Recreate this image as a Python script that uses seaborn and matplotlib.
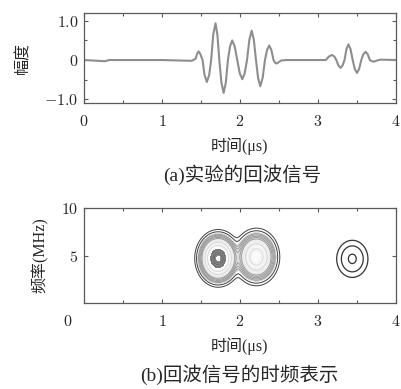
import numpy as np
import matplotlib
matplotlib.use("Agg")
import matplotlib.pyplot as plt
import matplotlib.transforms as mtransforms
import seaborn as sns

# ---- data ----
time_us = [0.0, 0.27, 0.32, 1.0, 1.38, 1.43, 1.45, 1.47, 1.49, 1.52, 1.545, 1.575,
           1.605, 1.63, 1.657, 1.686, 1.71, 1.735, 1.762, 1.79, 1.818, 1.845,
           1.872, 1.90, 1.932, 1.965, 1.997, 2.03, 2.06, 2.09, 2.12, 2.15, 2.177,
           2.205, 2.232, 2.26, 2.29, 2.32, 2.347, 2.375, 2.402, 2.43, 2.45, 2.47,
           2.50, 2.53, 2.6, 3.0, 3.1, 3.14, 3.18, 3.21, 3.235, 3.262, 3.29, 3.315,
           3.34, 3.365, 3.39, 3.417, 3.445, 3.472, 3.50, 3.527, 3.555, 3.582,
           3.61, 3.637, 3.665, 3.69, 3.72, 3.76, 3.8, 4.0]
amplitude = [0.0, -0.03, 0.0, 0.0, -0.02, 0.03, 0.16, 0.22, 0.16, 0.0, -0.38, -0.56,
             -0.38, 0.0, 0.65, 0.94, 0.65, 0.0, -0.58, -0.84, -0.58, 0.0,
             0.35, 0.50, 0.35, 0.0, -0.34, -0.49, -0.34, 0.0, 0.52, 0.75, 0.52,
             0.0, -0.46, -0.67, -0.46, 0.0, 0.26, 0.37, 0.26, 0.0, -0.07, -0.09,
             -0.05, -0.01, 0.0, 0.0, 0.0, 0.09, 0.13, 0.09, 0.0, -0.14, -0.20, -0.14,
             0.0, 0.28, 0.40, 0.28, 0.0, -0.23, -0.33, -0.23, 0.0, 0.15,
             0.21, 0.15, 0.0, -0.03, -0.04, -0.01, 0.01, 0.0]

# time-frequency energy blobs (centre time, centre freq, widths, amplitude)
echo1_t = [1.72, 2.21]
echo1_f = [4.7, 4.85]
echo1_st = [0.094, 0.101]
echo1_sf = [0.95, 1.02]
echo1_amp = [1.0, 0.5]
echo2_t = [3.44]
echo2_f = [4.65]
echo2_st = [0.10]
echo2_sf = [0.975]
echo2_amp = [1.0]
echo2_levels = [0.135, 0.375, 0.88]

xticks = [0, 1, 2, 3, 4]
xtick_labels = ['0', '1', '2', '3', '4']
yticks_a = [-1.0, 0, 1.0]
ytick_labels_a = ['-1.0', '0', '1.0']
yticks_b = [5, 10]
ytick_labels_b = ['5', '10']

sns.set_style("ticks")
plt.rcParams['font.family'] = ['Liberation Serif', 'Noto Sans CJK SC']
plt.rcParams['mathtext.fontset'] = 'cm'
cjk = ['Liberation Serif', 'Noto Sans CJK SC']

fig = plt.figure(figsize=(4.01, 3.89), dpi=100)
ax1 = fig.add_axes([0.2095, 0.735, 0.778, 0.2314])
ax2 = fig.add_axes([0.2095, 0.221, 0.778, 0.2442])

sns.lineplot(x=time_us, y=amplitude, ax=ax1, color='#8e8e8e', lw=1.5)
ax1.set_xlim(0, 4)
ax1.set_ylim(-1.1, 1.2)

# contour field
tt = np.linspace(0, 4, 801)
ff = np.linspace(0, 10, 401)
T, F = np.meshgrid(tt, ff)

def field(ts, fs, sts, sfs, amps):
    Z = np.zeros_like(T)
    for t0, f0, st, sf, a in zip(ts, fs, sts, sfs, amps):
        Z += a * np.exp(-((T - t0) ** 2) / (2 * st ** 2) - ((F - f0) ** 2) / (2 * sf ** 2))
    return Z

Z1 = field(echo1_t, echo1_f, echo1_st, echo1_sf, echo1_amp)
Z2 = field(echo2_t, echo2_f, echo2_st, echo2_sf, echo2_amp)

lv_black = [0.006, 0.013]
lv_band = list(np.geomspace(0.028, 0.09, 5))
ax2.contourf(T, F, Z1, levels=[0.022, 0.1, 0.25, 0.45, 2],
             colors=['0.87', '0.93', '0.96', '0.985'])
ax2.contour(T, F, Z1, levels=lv_black, colors='0.25', linewidths=0.7)
ax2.contour(T, F, Z1, levels=lv_band, colors='0.58', linewidths=0.6)
ax2.contour(T, F, Z1, levels=[0.2, 0.35], colors='0.82', linewidths=0.5)
ax2.contourf(T, F, Z1, levels=[0.6, 0.93], colors=['0.55'])
ax2.contour(T, F, Z1, levels=[0.64, 0.78, 0.88], colors='0.42', linewidths=0.7)
ax2.contour(T, F, Z2, levels=echo2_levels, colors='0.2', linewidths=0.9)
ax2.set_xlim(0, 4)
ax2.set_ylim(0, 10)

for ax in (ax1, ax2):
    ax.set_xticks(xticks)
    ax.set_xticklabels(['$' + s + '$' for s in xtick_labels], fontsize=11.5)
    ax.tick_params(direction='in', top=True, right=True, which='both',
                   length=3, width=0.8, color='0.35', pad=8)
    ax.tick_params(which='minor', length=2)
    for sp in ax.spines.values():
        sp.set_color('0.35')
        sp.set_linewidth(0.9)
    ax.set_xlabel('时间(μs)', fontsize=11.5, family=cjk, labelpad=5)

ax1.set_xticks([0.5, 1.5, 2.5, 3.5], minor=True)
ax1.set_yticks(yticks_a)
ax1.set_yticklabels(['$' + s + '$' for s in ytick_labels_a], fontsize=11.5)
ax1.set_yticks([-0.5, 0.5], minor=True)
ax1.tick_params(axis='y', pad=4)
ax1.set_ylabel('幅度', fontsize=11.5, family=cjk, labelpad=9)

ax2.set_xticks([0.5, 1.5, 2.5, 3.5], minor=True)
ax2.set_yticks(yticks_b)
ax2.set_yticklabels(['$' + s + '$' for s in ytick_labels_b], fontsize=11.5)
ax2.tick_params(axis='y', pad=4)
ax2.set_ylabel('频率(MHz)', fontsize=11.5, family=cjk, labelpad=9)

# the "0" under the lower panel sits left of the frame in the reference
lab0 = ax2.get_xticklabels()[0]
lab0.set_transform(lab0.get_transform() +
                   mtransforms.ScaledTranslation(-16 / 100, 0, fig.dpi_scale_trans))

fig.text(242 / 401, 1 - 175 / 389, '(a)实验的回波信号', ha='center', va='center',
         fontsize=14, family=cjk)
fig.text(239 / 401, 1 - 375 / 389, '(b)回波信号的时频表示', ha='center', va='center',
         fontsize=14, family=cjk)

fig.savefig('out.png', dpi=100)
